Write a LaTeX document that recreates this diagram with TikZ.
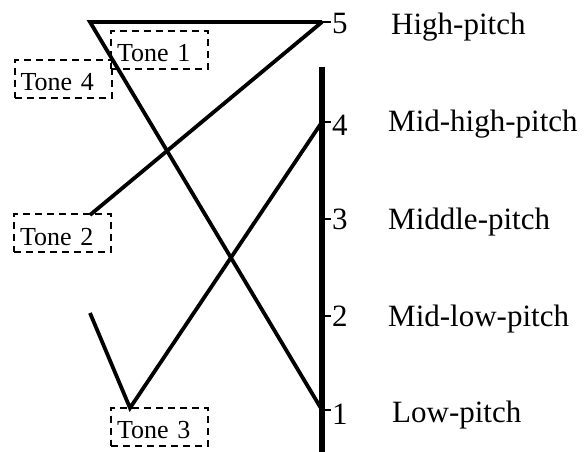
\documentclass[tikz,border=0pt]{standalone}
\usepackage{fontspec}
\setmainfont{Liberation Serif}
\usetikzlibrary{positioning}
\usetikzlibrary{calc}

\tikzset{
  tonebox/.style={draw, dash pattern=on 7pt off 5pt, line width=2pt,
    text width=85pt, inner xsep=6pt, align=left, minimum height=38pt,
    text height=24pt, text depth=0pt, font=\fontsize{26}{30}\selectfont},
  toneline/.style={line width=3.8pt, line join=miter},
  pitchbar/.style={line width=6pt},
  pitchtick/.style={line width=2.2pt},
  levelnum/.style={anchor=west, inner sep=0pt, font=\fontsize{31}{36}\selectfont},
  pitchname/.style={anchor=base west, inner sep=0pt, font=\fontsize{31}{36}\selectfont}
}

\begin{document}
\begin{tikzpicture}[x=1pt,y=-1pt]
    \useasboundingbox (0,0) rectangle (584,452);

    % pitch levels on the bar
    \coordinate (l5) at (322,22);
    \coordinate (l4) at (322,122);
    \coordinate (l3) at (322,219);
    \coordinate (l2) at (322,316);
    \coordinate (l1) at (322,410);

    % Draw the bar
    \draw[pitchbar] (322,67) -- (322,452);

    % ticks and numbers
    \foreach \lev/\dy in {1/4,2/0,3/0,4/3,5/2} {
        \draw[pitchtick] (l\lev) -- ++(9,0);
        \node[levelnum] (n\lev) at ($(l\lev)+(10,\dy)$) {\lev};
    }

    % pitch names
    \node[pitchname] (p5) at (391,35) {High-pitch};
    \node[pitchname] (p4) at (388,131) {Mid-high-pitch};
    \node[pitchname] (p3) at (388,229) {Middle-pitch};
    \node[pitchname] (p2) at (388,326) {Mid-low-pitch};
    \node[pitchname] (p1) at (392,422) {Low-pitch};

    % start points of the tones
    \coordinate (t14) at (90,22);
    \coordinate (t2) at (90,215);
    \coordinate (t3) at (90,313);
    \coordinate (t3low) at (130,408);

    % Draw the tone contours
    \draw[toneline] (l5) -- (t14) -- (l1);
    \draw[toneline] (t2) -- (l5);
    \draw[toneline] (t3) -- (t3low) -- (l4);

    % tone labels
    \node[tonebox] (tone1) at (159.5,50) {Tone 1};
    \node[tonebox] (tone4) at (63,79) {Tone 4};
    \node[tonebox] (tone2) at (62.5,233) {Tone 2};
    \node[tonebox] (tone3) at (159.5,426.5) {Tone 3};
\end{tikzpicture}
\end{document}
